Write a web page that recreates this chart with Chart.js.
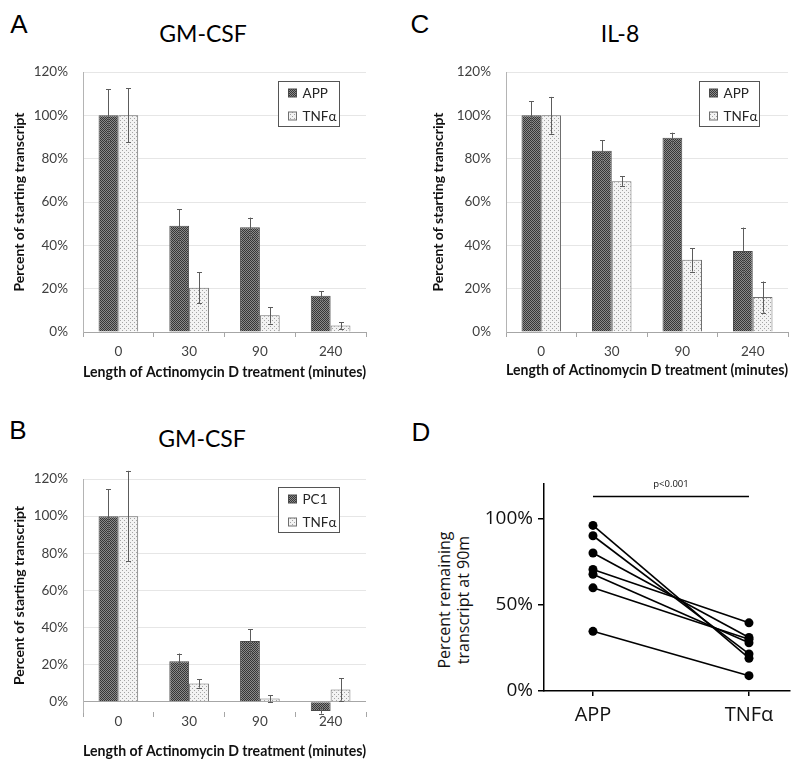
<!DOCTYPE html>
<html>
<head>
<meta charset="utf-8">
<script src="https://cdn.jsdelivr.net/npm/chart.js@4.4.0/dist/chart.umd.min.js"></script>
<style>
    body { margin: 0; background: #fff; width: 800px; height: 770px; position: relative; overflow: hidden; }
    canvas { position: absolute; }
    .letter { position: absolute; font-family: "Liberation Sans", Arial, sans-serif; font-size: 26px; line-height: 1; color: #000; transform: translate(-50%, -50%); }
    .title { position: absolute; font-family: Lato, sans-serif; font-size: 23px; line-height: 1; color: #000; white-space: nowrap; transform: translate(-50%, -50%); }
    #dTitle { position: absolute; left: 454px; top: 600px; font-family: "Open Sans", sans-serif; font-size: 16px; line-height: 19px; color: #111; text-align: center; white-space: nowrap; transform: translate(-50%, -50%) rotate(-90deg); }
</style>
</head>
<body>
<div class="letter" style="left:19px;top:24px">A</div>
<div class="letter" style="left:420px;top:24px">C</div>
<div class="letter" style="left:18px;top:430px">B</div>
<div class="letter" style="left:421px;top:432px">D</div>
<div class="title" style="left:203px;top:33px">GM-CSF</div>
<div class="title" style="left:620px;top:33px">IL-8</div>
<div class="title" style="left:202px;top:438px">GM-CSF</div>
<div id="dTitle">Percent remaining<br>transcript at 90m</div>

<canvas id="chartA" width="400" height="350" style="left:0;top:40px"></canvas>
<canvas id="chartC" width="400" height="350" style="left:400px;top:40px"></canvas>
<canvas id="chartB" width="400" height="350" style="left:0;top:420px"></canvas>
<canvas id="chartD" width="400" height="350" style="left:400px;top:420px"></canvas>

<script>
// values (percent of starting transcript)
const timeLabels = ['0', '30', '90', '240'];
const percentTicks = [0, 20, 40, 60, 80, 100, 120];

const gmcsfAppMean = [100, 49, 48.3, 16.7];
const gmcsfAppErr = [12, 7.6, 4.5, 2];
const gmcsfTnfMean = [100, 20.4, 7.7, 3];
const gmcsfTnfErr = [12.5, 7.2, 3.8, 1.5];

const il8AppMean = [100, 83.6, 89.7, 37.4];
const il8AppErr = [6.5, 5, 2.3, 10.8];
const il8TnfMean = [100, 69.6, 33.3, 16.1];
const il8TnfErr = [8.5, 2.2, 5.4, 7.2];

const pc1Mean = [100, 21.9, 32.7, -4.9];
const pc1Err = [14.4, 4.1, 6.3, 1.5];
const pc1TnfMean = [100, 9.9, 1.8, 6.6];
const pc1TnfErr = [24.4, 2.3, 1.8, 6];

const pairedLabels = ['APP', 'TNFα'];
const pairedApp = [96, 90, 80, 70.5, 67.7, 59.8, 34.6];
const pairedTnf = [19, 21.5, 31, 39.5, 28, 30, 8.9];
const pairedTicks = [0, 50, 100];

Chart.defaults.font.family = 'Lato, sans-serif';
Chart.defaults.animation = false;

// fill patterns like the excel ones
function makePattern(bg, fg, dots) {
    const c = document.createElement('canvas');
    c.width = 4; c.height = 4;
    const g = c.getContext('2d');
    g.fillStyle = bg;
    g.fillRect(0, 0, 4, 4);
    g.fillStyle = fg;
    dots.forEach(d => g.fillRect(d[0], d[1], 1, 1));
    return g.createPattern(c, 'repeat');
}
const darkFill = makePattern('#8a8a8a', '#363636', [[0, 0], [2, 0], [1, 1], [3, 1], [0, 2], [2, 2], [1, 3], [3, 3]]);
const lightFill = makePattern('#f3f3f3', '#a4a4a4', [[0, 0], [2, 2]]);

const errorBarPlugin = {
    id: 'errorBars',
    afterDatasetsDraw(chart, args, opts) {
        const ctx = chart.ctx;
        const y = chart.scales.y;
        chart.data.datasets.forEach((ds, i) => {
            if (!ds.errors) return;
            const meta = chart.getDatasetMeta(i);
            meta.data.forEach((bar, j) => {
                const v = ds.data[j], e = ds.errors[j];
                const top = y.getPixelForValue(v + e);
                const bot = y.getPixelForValue(v - e);
                const x = Math.round(bar.x) + 0.5;
                ctx.save();
                ctx.strokeStyle = opts.color || '#666';
                ctx.lineWidth = 1;
                ctx.beginPath();
                ctx.moveTo(x, top); ctx.lineTo(x, bot);
                ctx.moveTo(x - 2.5, Math.round(top) + 0.5); ctx.lineTo(x + 2.5, Math.round(top) + 0.5);
                ctx.moveTo(x - 2.5, Math.round(bot) + 0.5); ctx.lineTo(x + 2.5, Math.round(bot) + 0.5);
                ctx.stroke();
                ctx.restore();
            });
        });
    }
};

const boxLegendPlugin = {
    id: 'boxLegend',
    afterDraw(chart, args, opts) {
        if (!opts.width) return;
        const {ctx, chartArea} = chart;
        const x0 = Math.round(chartArea.left + opts.left) + 0.5;
        const y0 = Math.round(chartArea.top + opts.top) + 0.5;
        ctx.save();
        ctx.fillStyle = '#fff';
        ctx.fillRect(x0, y0, opts.width, opts.height);
        ctx.strokeStyle = '#555';
        ctx.lineWidth = 1;
        ctx.strokeRect(x0, y0, opts.width, opts.height);
        ctx.font = '13.5px Lato, sans-serif';
        ctx.textBaseline = 'middle';
        chart.data.datasets.forEach((ds, i) => {
            const cy = Math.round(y0 + 11 + i * 23.5);
            ctx.fillStyle = ds.backgroundColor;
            ctx.fillRect(x0 + 10, cy - 4, 8, 8);
            ctx.strokeStyle = ds.borderColor;
            ctx.strokeRect(x0 + 10, cy - 4, 8, 8);
            ctx.fillStyle = '#262626';
            ctx.fillText(ds.label, x0 + 24, cy + 1);
        });
        ctx.restore();
    }
};

function makeBarChart(id, names, means, errs, cfg) {
    const datasets = names.map((n, i) => ({
        label: n,
        data: means[i],
        errors: errs[i],
        backgroundColor: i === 0 ? darkFill : lightFill,
        borderColor: i === 0 ? '#4a4a4a' : '#6e6e6e',
        borderWidth: 1,
        categoryPercentage: 0.56,
        barPercentage: 1
    }));
    return new Chart(document.getElementById(id), {
        type: 'bar',
        data: { labels: timeLabels, datasets },
        plugins: [errorBarPlugin, boxLegendPlugin],
        options: {
            responsive: false,
            layout: { padding: cfg.padding },
            plugins: {
                legend: { display: false },
                tooltip: { enabled: false },
                errorBars: { color: '#5c5c5c' },
                boxLegend: cfg.legend
            },
            scales: {
                x: {
                    grid: { offset: true, drawOnChartArea: false, tickLength: 5, color: '#a6a6a6' },
                    border: { display: cfg.xBorder, color: '#a6a6a6' },
                    ticks: { padding: cfg.xPad, color: '#404040', font: { size: 13.5 } },
                    title: {
                        display: true,
                        text: 'Length of Actinomycin D treatment (minutes)',
                        color: '#111',
                        font: { size: 14.5, weight: 'bold' },
                        padding: { top: 0, bottom: 0 }
                    },
                    afterFit: s => { s.height = cfg.xHeight; }
                },
                y: {
                    min: cfg.yMin,
                    max: 120,
                    afterBuildTicks: s => { s.ticks = percentTicks.map(v => ({ value: v })); },
                    afterFit: s => { s.width = cfg.yWidth; },
                    grid: {
                        drawTicks: false,
                        color: c => (c.tick && c.tick.value === 0) ? '#a6a6a6' : '#e6e6e6'
                    },
                    border: { color: '#b4b4b4' },
                    ticks: { padding: 15, color: '#404040', font: { size: 13.5 }, callback: v => v + '%' },
                    title: {
                        display: true,
                        text: 'Percent of starting transcript',
                        color: '#111',
                        font: { size: 14, weight: 'bold' },
                        padding: { top: 4, bottom: 4 }
                    }
                }
            }
        }
    });
}

makeBarChart('chartA', ['APP', 'TNFα'], [gmcsfAppMean, gmcsfTnfMean], [gmcsfAppErr, gmcsfTnfErr], {
    padding: { left: 7, top: 32, right: 34, bottom: 9 },
    yWidth: 76, xHeight: 49, xPad: 7, yMin: 0, xBorder: true,
    legend: { left: 195, top: 9, width: 61, height: 45 }
});

makeBarChart('chartC', ['APP', 'TNFα'], [il8AppMean, il8TnfMean], [il8AppErr, il8TnfErr], {
    padding: { left: 26, top: 32, right: 12, bottom: 11 },
    yWidth: 80, xHeight: 47, xPad: 7, yMin: 0, xBorder: true,
    legend: { left: 193, top: 9, width: 60, height: 45 }
});

makeBarChart('chartB', ['PC1', 'TNFα'], [pc1Mean, pc1TnfMean], [pc1Err, pc1TnfErr], {
    padding: { left: 7, top: 59, right: 34, bottom: 10 },
    yWidth: 76, xHeight: 48, xPad: -3, yMin: -5.5, xBorder: false,
    legend: { left: 195, top: 8, width: 61, height: 45 }
});

// panel D: paired points, one line per donor
const pValuePlugin = {
    id: 'pValue',
    afterDraw(chart) {
        const {ctx, scales} = chart;
        const yl = Math.round(scales.y.getPixelForValue(113)) + 0.5;
        const x1 = scales.x.getPixelForValue(0), x2 = scales.x.getPixelForValue(1);
        ctx.save();
        ctx.strokeStyle = '#000';
        ctx.lineWidth = 1.5;
        ctx.beginPath();
        ctx.moveTo(x1, yl); ctx.lineTo(x2, yl);
        ctx.stroke();
        ctx.fillStyle = '#111';
        ctx.font = '9.5px "Open Sans", sans-serif';
        ctx.textAlign = 'center';
        ctx.textBaseline = 'middle';
        ctx.fillText('p<0.001', (x1 + x2) / 2, yl - 12);
        ctx.restore();
    }
};

new Chart(document.getElementById('chartD'), {
    type: 'line',
    data: {
        datasets: pairedApp.map((a, i) => ({
            data: [{ x: 0, y: a }, { x: 1, y: pairedTnf[i] }],
            borderColor: '#000',
            borderWidth: 1.6,
            backgroundColor: '#000',
            pointRadius: 4.5,
            pointBorderWidth: 0
        }))
    },
    plugins: [pValuePlugin],
    options: {
        responsive: false,
        layout: { padding: { left: 60, top: 64, right: 10, bottom: 29 } },
        plugins: { legend: { display: false }, tooltip: { enabled: false } },
        scales: {
            x: {
                type: 'linear',
                min: -0.314,
                max: 1.263,
                afterBuildTicks: s => { s.ticks = [{ value: 0 }, { value: 1 }]; },
                afterFit: s => { s.height = 50; },
                grid: { drawOnChartArea: false, tickLength: 5, color: '#000', lineWidth: 1.5 },
                border: { color: '#000', width: 1.5 },
                ticks: {
                    padding: 7, color: '#111',
                    font: { family: '"Open Sans", sans-serif', size: 20 },
                    callback: v => pairedLabels[v]
                }
            },
            y: {
                min: 0,
                max: 120,
                afterBuildTicks: s => { s.ticks = pairedTicks.map(v => ({ value: v })); },
                afterFit: s => { s.width = 84; },
                grid: { drawOnChartArea: false, tickLength: 6, color: '#000', lineWidth: 1.5 },
                border: { color: '#000', width: 1.5 },
                ticks: {
                    padding: 5, color: '#111',
                    font: { family: '"Open Sans", sans-serif', size: 19 },
                    callback: v => v + '%'
                }
            }
        }
    }
});
</script>
</body>
</html>
